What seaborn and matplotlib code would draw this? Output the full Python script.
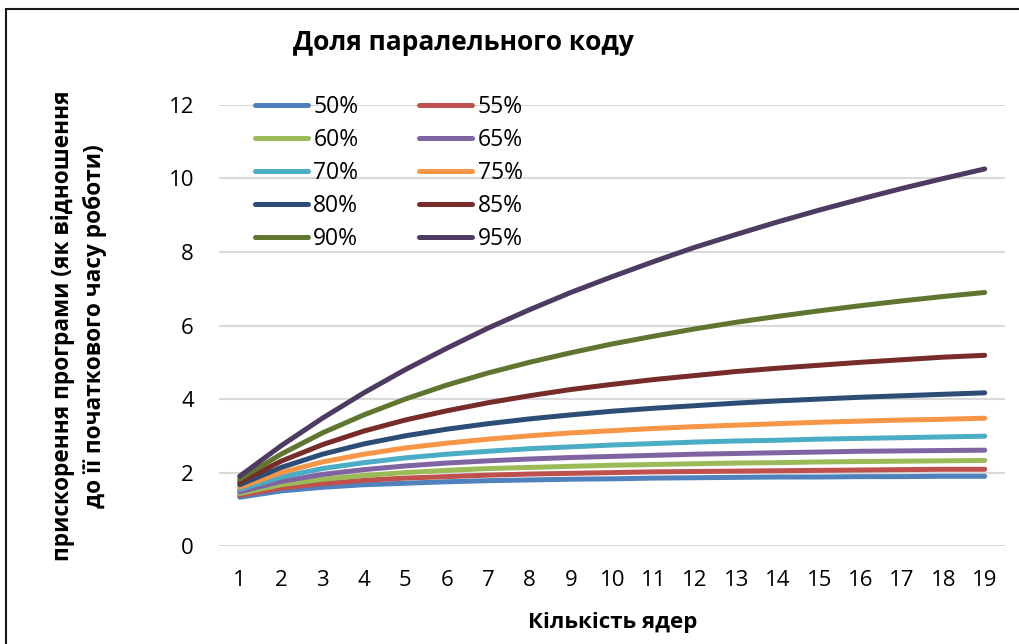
import pandas as pd
import numpy as np
import matplotlib.pyplot as plt
import matplotlib.patches as mpatches
import seaborn as sns

# Дані: прискорення для кожної частки паралельного коду
cores = list(range(1, 20))
shares = ['50%', '55%', '60%', '65%', '70%', '75%', '80%', '85%', '90%', '95%']

s50 = [1.33, 1.50, 1.60, 1.67, 1.71, 1.75, 1.78, 1.80, 1.82, 1.83, 1.85, 1.86, 1.87, 1.88, 1.88, 1.89, 1.89, 1.90, 1.90]
s55 = [1.38, 1.58, 1.70, 1.79, 1.85, 1.89, 1.93, 1.96, 1.98, 2.00, 2.02, 2.03, 2.04, 2.05, 2.06, 2.07, 2.08, 2.09, 2.09]
s60 = [1.43, 1.67, 1.82, 1.92, 2.00, 2.06, 2.11, 2.14, 2.17, 2.20, 2.22, 2.24, 2.26, 2.27, 2.29, 2.30, 2.31, 2.32, 2.33]
s65 = [1.48, 1.76, 1.95, 2.08, 2.18, 2.26, 2.32, 2.37, 2.41, 2.44, 2.47, 2.50, 2.52, 2.54, 2.56, 2.58, 2.59, 2.60, 2.61]
s70 = [1.54, 1.88, 2.11, 2.27, 2.40, 2.50, 2.58, 2.65, 2.70, 2.75, 2.79, 2.83, 2.86, 2.88, 2.91, 2.93, 2.95, 2.97, 2.99]
s75 = [1.60, 2.00, 2.29, 2.50, 2.67, 2.80, 2.91, 3.00, 3.08, 3.14, 3.20, 3.25, 3.29, 3.33, 3.37, 3.40, 3.43, 3.45, 3.48]
s80 = [1.67, 2.14, 2.50, 2.78, 3.00, 3.18, 3.33, 3.46, 3.57, 3.67, 3.75, 3.82, 3.89, 3.95, 4.00, 4.05, 4.09, 4.13, 4.17]
s85 = [1.74, 2.31, 2.76, 3.13, 3.43, 3.68, 3.90, 4.09, 4.26, 4.40, 4.53, 4.64, 4.75, 4.84, 4.92, 5.00, 5.07, 5.14, 5.19]
s90 = [1.82, 2.50, 3.08, 3.57, 4.00, 4.38, 4.71, 5.00, 5.26, 5.50, 5.71, 5.91, 6.09, 6.25, 6.40, 6.54, 6.67, 6.79, 6.90]
s95 = [1.90, 2.73, 3.48, 4.17, 4.80, 5.38, 5.93, 6.43, 6.90, 7.33, 7.74, 8.13, 8.48, 8.82, 9.14, 9.44, 9.73, 10.00, 10.26]

series = [s50, s55, s60, s65, s70, s75, s80, s85, s90, s95]
colors = ['#4F81BD', '#C0504D', '#9BBB59', '#8064A2', '#4BACC6',
          '#F79646', '#2C4D75', '#772C2A', '#5F7530', '#4D3B62']

df = pd.DataFrame({
    'ядра': cores * len(shares),
    'прискорення': np.concatenate(series),
    'частка': np.repeat(shares, len(cores)),
})

sns.set_theme(style='white')
plt.rcParams['font.family'] = ['Open Sans', 'DejaVu Sans']
plt.rcParams['text.color'] = 'black'

fig = plt.figure(figsize=(10.2, 6.44), dpi=100)
ax = fig.add_axes([0.2147, 0.152, 0.771, 0.685])

sns.lineplot(data=df, x='ядра', y='прискорення', hue='частка', hue_order=shares,
             palette=colors, linewidth=3.6, ax=ax, solid_capstyle='round')

ax.set_xlim(0.5, 19.5)
ax.set_ylim(0, 12)
ax.set_xticks(cores)
ax.set_yticks(range(0, 13, 2))
ax.tick_params(axis='both', labelsize=16, length=0, colors='black')
ax.tick_params(axis='y', pad=18)
ax.tick_params(axis='x', pad=17)
ax.yaxis.grid(True, color='#D9D9D9', linewidth=1.5)
ax.set_axisbelow(True)
for sp in ax.spines.values():
    sp.set_visible(False)

ax.set_xlabel('Кількість ядер', fontsize=16, fontweight='bold', labelpad=15, color='black')
ax.set_ylabel('')
fig.text(0.0775, 0.494, 'прискорення програми (як відношення\nдо її початкового часу роботи)',
         rotation=90, ha='center', va='center', fontsize=16.3, fontweight='bold',
         linespacing=1.45)
fig.text(0.454, 0.934, 'Доля паралельного коду', ha='center', va='center',
         fontsize=19, fontweight='bold')

# легенда: заповнення по рядках як в Excel
handles, labels = ax.get_legend_handles_labels()
order = [0, 2, 4, 6, 8, 1, 3, 5, 7, 9]
leg = ax.legend([handles[i] for i in order], [labels[i] for i in order],
                ncol=2, loc='upper left', bbox_to_anchor=(0.0457, 1.0215),
                borderaxespad=0, borderpad=0,
                frameon=False, fontsize=16.5, handlelength=2.3, handletextpad=0.25,
                labelspacing=0.39, columnspacing=2.65)
for h in leg.get_lines():
    h.set_linewidth(3.6)
    h.set_solid_capstyle('round')

fig.patches.append(mpatches.Rectangle((6 / 1020, -0.05), 1.1, 1 - 9 / 644 + 0.05,
                                      transform=fig.transFigure, fill=False,
                                      edgecolor='#1a1a1a', linewidth=1.5))

fig.savefig('out.png', dpi=100)
